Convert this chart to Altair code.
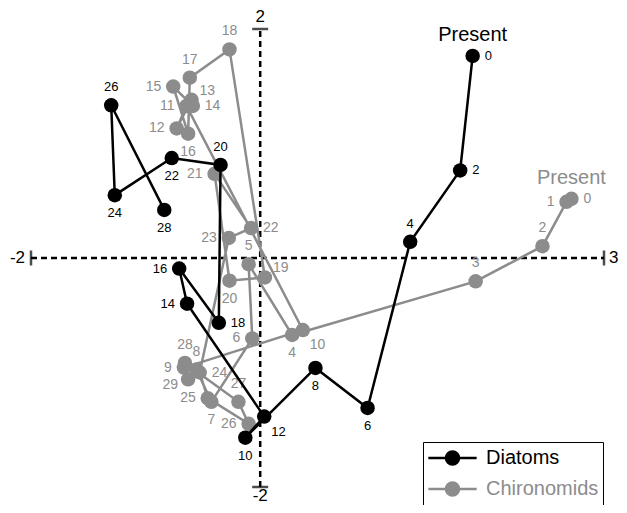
import altair as alt
import pandas as pd

FONT = "Liberation Sans"
BLACK = "#000000"
GRAY = "#8c8c8c"

# ---- data ----
dia_id = [0, 2, 4, 6, 8, 10, 12, 14, 16, 18, 20, 22, 24, 26, 28]
dia_x = [1.854, 1.745, 1.309, 0.937, 0.482, -0.130, 0.035, -0.638, -0.707, -0.361,
         -0.346, -0.772, -1.269, -1.300, -0.837]
dia_y = [1.765, 0.765, 0.141, -1.310, -0.960, -1.569, -1.385, -0.399, -0.092, -0.566,
         0.813, 0.873, 0.549, 1.334, 0.420]
dia_lab = ["R", "R", "T", "B", "B", "B", "BR", "L", "L", "R", "T", "B", "B", "T", "B"]

chi_id = [0, 1, 2, 3, 4, 5, 6, 7, 8, 9, 10, 11, 12, 13, 14, 15, 16, 17, 18, 19,
          20, 21, 22, 23, 24, 25, 26, 27, 28, 29]
chi_x = [2.716, 2.673, 2.463, 1.880, 0.279, -0.101, -0.069, -0.426, -0.556, -0.666,
         0.372, -0.643, -0.729, -0.599, -0.588, -0.759, -0.629, -0.614, -0.268, 0.041,
         -0.268, -0.398, -0.080, -0.274, -0.528, -0.458, -0.101, -0.190, -0.657, -0.629]
chi_y = [0.517, 0.491, 0.103, -0.204, -0.672, -0.054, -0.703, -1.256, -0.974, -0.957,
         -0.629, 1.328, 1.132, 1.382, 1.328, 1.497, 1.086, 1.575, 1.822, -0.170,
         -0.198, 0.735, 0.261, 0.175, -1.000, -1.224, -1.448, -1.256, -0.916, -1.060]
chi_lab = ["R", "L", "T", "T", "B", "T", "L", "B", "T", "L", "BR", "L", "L", "TR", "R",
           "L", "B", "T", "T", "TR", "B", "L", "R", "L", "R", "L", "L", "T", "T", "BL"]

series_names = ["Diatoms", "Chironomids"]
x_ticks = [-2, 3]
y_ticks = [-2, 2]
present_text = "Present"

# ---- frames ----
dia = pd.DataFrame({"id": dia_id, "x": dia_x, "y": dia_y, "pos": dia_lab, "series": "Diatoms"})
chi = pd.DataFrame({"id": chi_id, "x": chi_x, "y": chi_y, "pos": chi_lab, "series": "Chironomids"})

X = alt.Scale(domain=[-2.2007, 3.1309], nice=False, zero=False)
Y = alt.Scale(domain=[-2.1572, 2.1834], nice=False, zero=False)

PATH = "M-2.3,0L2.3,0M-0.62,0A0.62,0.62,0,1,0,0.62,0A0.62,0.62,0,1,0,-0.62,0Z"
leg = alt.Legend(
    title=None, orient="none", legendX=415, legendY=434,
    symbolType=PATH, symbolSize=441, symbolStrokeWidth=2.5, symbolOffset=13.5,
    symbolOpacity=1,
    labelOffset=21.5, labelFontSize=20, labelFont=FONT, padding=4, rowPadding=7,
    strokeColor="black", fillColor="white", cornerRadius=0,
    labelColor={"expr": "datum.label == 'Chironomids' ? '#8c8c8c' : '#000000'"},
)
color = alt.Color("series:N", scale=alt.Scale(domain=series_names, range=[BLACK, GRAY]), legend=leg)

# ---- axes (dashed cross with end ticks) ----
hrule_df = pd.DataFrame({"x": [min(x_ticks)], "x2": [max(x_ticks)], "y": [0]})
vrule_df = pd.DataFrame({"y": [min(y_ticks)], "y2": [max(y_ticks)], "x": [0]})
hrule = alt.Chart(hrule_df).mark_rule(strokeDash=[6, 4], strokeWidth=2.5, color="black").encode(
    x=alt.X("x:Q", scale=X, axis=None), x2="x2:Q", y=alt.Y("y:Q", scale=Y, axis=None))
vrule = alt.Chart(vrule_df).mark_rule(strokeDash=[6, 4], strokeWidth=2.5, color="black").encode(
    y=alt.Y("y:Q", scale=Y, axis=None), y2="y2:Q", x=alt.X("x:Q", scale=X, axis=None))

xt_df = pd.DataFrame({"x": x_ticks, "y": 0, "t": [str(v) for v in x_ticks]})
yt_df = pd.DataFrame({"y": y_ticks, "x": 0, "t": [str(v) for v in y_ticks]})
xtick = alt.Chart(xt_df).mark_tick(orient="vertical", size=15, thickness=2.5, color="black").encode(
    x=alt.X("x:Q", scale=X, axis=None), y=alt.Y("y:Q", scale=Y, axis=None))
ytick = alt.Chart(yt_df).mark_tick(orient="horizontal", size=16, thickness=2.5, color="black").encode(
    x=alt.X("x:Q", scale=X, axis=None), y=alt.Y("y:Q", scale=Y, axis=None))

def tick_text(df, cond, **kw):
    return alt.Chart(df).transform_filter(cond).mark_text(
        font=FONT, fontSize=17, color="black", baseline="middle", **kw).encode(
        x=alt.X("x:Q", scale=X, axis=None), y=alt.Y("y:Q", scale=Y, axis=None), text="t:N")

xl_left = tick_text(xt_df, "datum.x < 0", align="right", dx=-6)
xl_right = tick_text(xt_df, "datum.x > 0", align="left", dx=5)
yl_top = tick_text(yt_df, "datum.y > 0", align="center", dy=-12)
yl_bot = tick_text(yt_df, "datum.y < 0", align="center", dy=9)

# ---- series ----
OFF = {"R": (12, 0, "left"), "L": (-12, 0, "right"), "T": (0, -18, "center"),
       "B": (0, 18, "center"), "BR": (7, 15, "left"), "TR": (8, -9, "left"),
       "BL": (-10, 6, "right")}

def series_layers(df, col, fsize):
    base = alt.Chart(df).encode(x=alt.X("x:Q", scale=X, axis=None), y=alt.Y("y:Q", scale=Y, axis=None))
    line = base.mark_line(strokeWidth=2.5).encode(color=color, order="id:Q")
    pts = base.mark_circle(size=210, opacity=1).encode(color=color)
    texts = []
    for key, (dx, dy, al) in OFF.items():
        texts.append(base.transform_filter(alt.datum.pos == key).mark_text(
            font=FONT, fontSize=fsize, color=col, dx=dx, dy=dy, align=al, baseline="middle"
        ).encode(text="id:N"))
    present = base.transform_filter(alt.datum.id == 0).mark_text(
        font=FONT, fontSize=20, color=col, dy=-21, align="center", baseline="middle"
    ).encode(text=alt.value(present_text))
    return [line, pts] + texts + [present]

layers = [hrule, vrule, xtick, ytick, xl_left, xl_right, yl_top, yl_bot]
layers += series_layers(chi, GRAY, 14)
layers += series_layers(dia, BLACK, 13)

chart = alt.layer(*layers).properties(
    width=611, height=497, autosize="none", padding=0
).configure_view(stroke=None)

chart.save("out.html", embed_options={"renderer": "svg", "actions": False})
